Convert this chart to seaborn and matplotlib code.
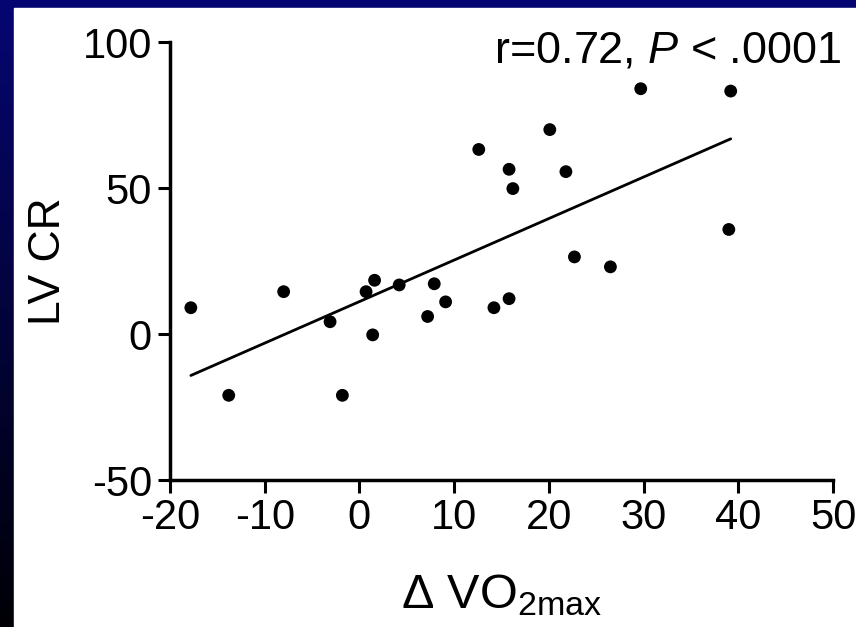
import numpy as np
import pandas as pd
import matplotlib
matplotlib.use('Agg')
import matplotlib.pyplot as plt
import seaborn as sns

# change in VO2max vs LV cardiac remodelling
vo2_change = [-17.8, -13.8, -8.0, -3.1, -1.8, 0.7, 1.6, 1.4, 4.2, 7.9, 7.2, 9.1,
              12.6, 14.2, 15.8, 15.8, 16.2, 20.1, 21.8, 22.7, 26.5, 29.7, 39.2, 39.0]
lv_cr = [9.0, -21.0, 14.5, 4.2, -21.0, 14.5, 18.4, -0.3, 16.8, 17.2, 6.0, 11.0,
         63.2, 9.0, 12.1, 56.4, 49.8, 70.0, 55.6, 26.4, 23.0, 84.0, 83.2, 35.8]
x_ticks = [-20, -10, 0, 10, 20, 30, 40, 50]
y_ticks = [-50, 0, 50, 100]
stats_text = r'r=0.72, $\mathit{P}$ < .0001'

df = pd.DataFrame({'vo2': vo2_change, 'lvcr': lv_cr})

sns.set_style('ticks')
plt.rcParams['font.family'] = ['Liberation Sans', 'DejaVu Sans']
plt.rcParams['mathtext.fontset'] = 'custom'
plt.rcParams['mathtext.it'] = 'Liberation Sans:italic'
plt.rcParams['mathtext.rm'] = 'Liberation Sans'
plt.rcParams['axes.unicode_minus'] = False
plt.rcParams['text.color'] = 'black'
plt.rcParams['axes.labelcolor'] = 'black'
plt.rcParams['xtick.color'] = 'black'
plt.rcParams['ytick.color'] = 'black'

fig = plt.figure(figsize=(8.56, 6.27), dpi=100)

# dark blue slide background with white panel
bg = fig.add_axes([0, 0, 1, 1])
grad = np.linspace(0.45, 0.02, 256).reshape(-1, 1)
rgb = np.dstack([grad * 0.05, grad * 0.05, grad])
bg.imshow(rgb, aspect='auto', extent=[0, 1, 0, 1])
bg.add_patch(plt.Rectangle((14 / 856, 0), 1, 1 - 8 / 627, color='white', zorder=2))
bg.set_xlim(0, 1)
bg.set_ylim(0, 1)
bg.axis('off')

ax = fig.add_axes([170 / 856, 1 - 480 / 627, (833 - 170) / 856, (480 - 42) / 627])
ax.patch.set_alpha(0)

sns.scatterplot(data=df, x='vo2', y='lvcr', color='black', s=85, edgecolor='none', ax=ax)
sns.regplot(data=df, x='vo2', y='lvcr', scatter=False, ci=None, truncate=True,
            color='black', line_kws={'linewidth': 2}, ax=ax)

ax.set_xlim(-20, 50)
ax.set_ylim(-50, 100)
ax.set_xticks(x_ticks)
ax.set_yticks(y_ticks)
ax.tick_params(labelsize=30, width=2.2, length=9, direction='out', pad=4)
for side in ['left', 'bottom']:
    ax.spines[side].set_linewidth(2.5)
    ax.spines[side].set_color('black')
sns.despine(ax=ax)

ax.set_xlabel(r'Δ VO$_{\mathrm{2max}}$', fontsize=35, labelpad=25)
ax.set_ylabel('LV CR', fontsize=32, labelpad=10)

ax.text(1.0136, 0.979, stats_text, transform=ax.transAxes, ha='right', va='center',
        fontsize=32.5)

fig.savefig('out.png', dpi=100)
